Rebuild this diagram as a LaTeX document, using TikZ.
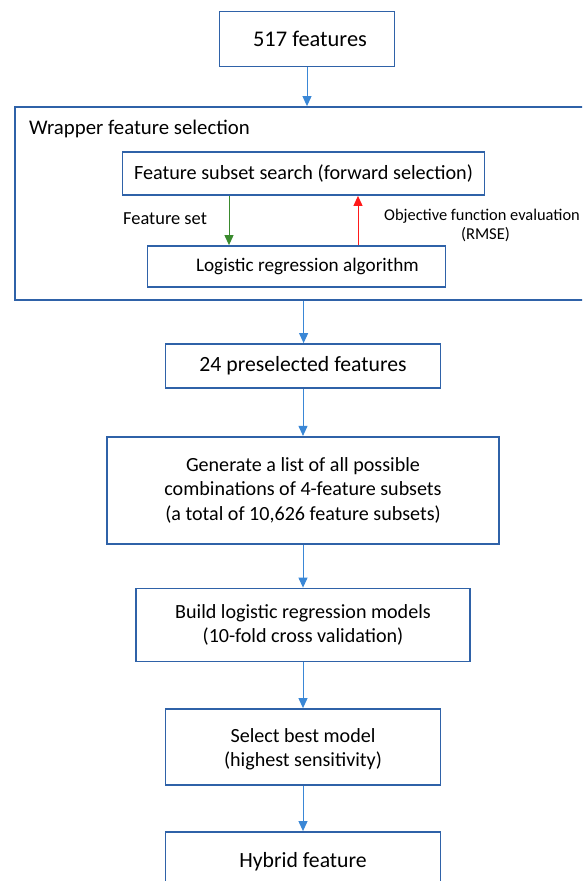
\documentclass[tikz,border=0pt]{standalone}
\usepackage{fontspec}
\setmainfont{Carlito}
\usetikzlibrary{arrows.meta,calc}
\definecolor{boxblue}{HTML}{2F62A8}
\definecolor{arrblue}{HTML}{3A87D6}
\definecolor{arrgreen}{HTML}{3A8A2E}
\definecolor{arrred}{HTML}{FF1A1A}
\tikzset{
  flowbox/.style={draw=boxblue, line width=1.8pt, rectangle, inner sep=0pt, align=center,
    font=\fontsize{20.1}{24.4}\selectfont},
  flowarrow/.style={draw=arrblue, line width=1pt, -{Triangle[length=10pt,width=9pt]}},
  lbl/.style={inner sep=0pt, font=\fontsize{18.4}{20}\selectfont},
}
\begin{document}
\begin{tikzpicture}[x=1pt,y=-1pt]
\useasboundingbox (0,0) rectangle (582,881);
\clip (0,0) rectangle (582,881);
% top
\node[flowbox, minimum width=175pt, minimum height=55pt, font=\fontsize{22.4}{26}\selectfont] (top) at (307,39) {\hspace*{6pt}517 features};
% wrapper
\node[draw=boxblue, line width=1.8pt, rectangle, inner sep=0pt, minimum width=600pt, minimum height=193pt] (wrap) at (315,203.5) {};
\node[anchor=west, inner sep=0pt, font=\fontsize{20.8}{24}\selectfont] (wlab) at (29,129) {Wrapper feature selection};
\node[flowbox, minimum width=362pt, minimum height=43pt, font=\fontsize{20.2}{24}\selectfont] (fss) at (303.5,173.5) {Feature subset search (forward selection)};
\node[flowbox, minimum width=298pt, minimum height=41pt, label={[font=\fontsize{19.2}{24}\selectfont, xshift=11pt]center:Logistic regression algorithm}] (lra) at (296.4,266.5) {};
\coordinate (gx) at (229,0);
\coordinate (rx) at (358,0);
\draw[draw=arrgreen, line width=1pt, -{Triangle[length=10pt,width=9pt]}] (gx |- fss.south) -- (gx |- lra.north);
\draw[draw=arrred, line width=1pt, -{Triangle[length=10pt,width=9pt]}] (rx |- lra.north) -- (rx |- fss.south);
\node[lbl, anchor=west] (fset) at (123,219) {Feature set};
\node[inner sep=0pt, anchor=west, font=\fontsize{16.4}{19}\selectfont] (obj) at (384,216) {Objective function evaluation};
\node[inner sep=0pt, font=\fontsize{16.6}{19}\selectfont] (rmse) at (485.5,235) {(RMSE)};
% lower flow
\node[flowbox, minimum width=275pt, minimum height=44pt, font=\fontsize{21.7}{24}\selectfont] (pre) at (303,366) {24 preselected features};
\node[flowbox, minimum width=392pt, minimum height=107pt] (gen) at (303,490.3) {Generate a list of all possible\\combinations of 4-feature subsets\\(a total of 10,626 feature subsets)};
\node[flowbox, minimum width=334pt, minimum height=73pt] (build) at (303,625) {Build logistic regression models\\(10-fold cross validation)};
\node[flowbox, minimum width=275pt, minimum height=76pt, label={[font=\fontsize{20.1}{24.4}\selectfont, align=center, yshift=-2pt]center:Select best model\\(highest sensitivity)}] (sel) at (303,747) {};
\node[flowbox, minimum width=275pt, minimum height=68pt, label={[font=\fontsize{21.7}{24}\selectfont, yshift=4pt]center:Hybrid feature}] (hyb) at (303,866) {};
% arrows
\draw[flowarrow] (top.south) -- (top.south |- wrap.north);
\coordinate (mx) at (303.6,0);
\draw[flowarrow] (mx |- wrap.south) -- (mx |- pre.north);
\draw[flowarrow] (pre.south) -- (gen.north);
\draw[flowarrow] (gen.south) -- (build.north);
\draw[flowarrow] (build.south) -- (sel.north);
\draw[flowarrow] (sel.south) -- (hyb.north);
\end{tikzpicture}
\end{document}
